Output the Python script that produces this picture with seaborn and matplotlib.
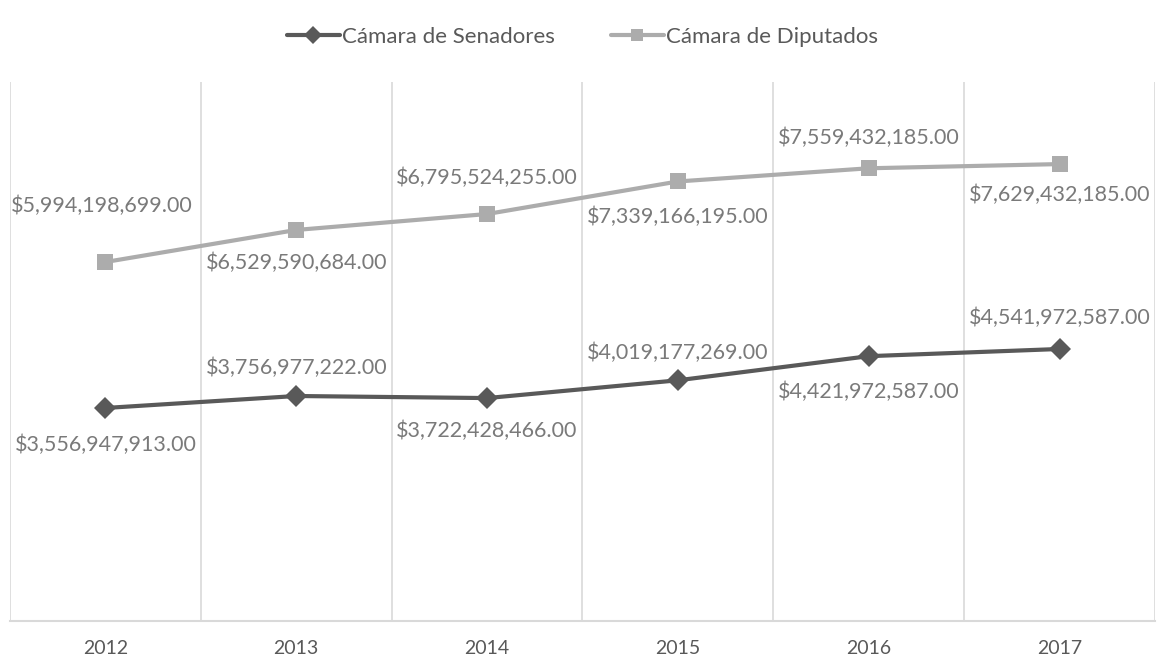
import numpy as np
import pandas as pd
import matplotlib
matplotlib.use('Agg')
import matplotlib.pyplot as plt
import seaborn as sns

# datos
years = ['2012', '2013', '2014', '2015', '2016', '2017']
senadores = [3556947913.00, 3756977222.00, 3722428466.00, 4019177269.00, 4421972587.00, 4541972587.00]
diputados = [5994198699.00, 6529590684.00, 6795524255.00, 7339166195.00, 7559432185.00, 7629432185.00]
series_names = ['Cámara de Senadores', 'Cámara de Diputados']
# desplazamiento vertical de la etiqueta (pixeles, + arriba)
off_sen = [-37, 28, -33, 27, -36, 31]
off_dip = [56, -33, 36, -35, 30, -31]
off_dip_x = [-4, 0, 0, 0, 0, 0]

df = pd.DataFrame({
    'x': list(range(len(years))) * 2,
    'valor': senadores + diputados,
    'serie': [series_names[0]] * len(years) + [series_names[1]] * len(years),
})

sns.set_theme(style='white')
plt.rcParams['font.family'] = ['Lato', 'DejaVu Sans']

colores = {series_names[0]: '#595959', series_names[1]: '#acacac'}
marcadores = {series_names[0]: 'D', series_names[1]: 's'}

fig = plt.figure(figsize=(11.62, 6.62), dpi=100)
ax = fig.add_axes([10 / 1162, 41 / 662, 1145 / 1162, 539 / 662])

sns.lineplot(data=df, x='x', y='valor', hue='serie', style='serie',
             palette=colores, markers=marcadores, dashes=False,
             linewidth=3, markersize=11, markeredgewidth=0, ax=ax)

ax.set_xlim(-0.5, len(years) - 0.5)
ax.set_ylim(0, 9e9)
ax.set_xticks(range(len(years)))
ax.set_xticklabels(years, fontsize=14, color='#595959')
ax.set_xticks(np.arange(-0.5, len(years), 1), minor=True)
ax.grid(True, which='minor', axis='x', color='#d9d9d9', linewidth=1.2)
ax.tick_params(axis='x', which='both', length=0, pad=14)
ax.set_yticks([])
ax.set_xlabel('')
ax.set_ylabel('')
for s in ['top', 'right', 'left']:
    ax.spines[s].set_visible(False)
ax.spines['bottom'].set_color('#d9d9d9')
ax.spines['bottom'].set_linewidth(1.5)

# etiquetas de datos
for vals, offs, offx in [(senadores, off_sen, [0] * 6), (diputados, off_dip, off_dip_x)]:
    for i, v in enumerate(vals):
        ax.annotate('${:,.2f}'.format(v), (i, v), xytext=(offx[i], offs[i]),
                    textcoords='offset pixels',
                    ha='center', va='center', fontsize=15.5, color='#7a7a7a')

leg = ax.legend(loc='upper center', bbox_to_anchor=(0.5, 1.14), ncol=2,
                frameon=False, fontsize=16, handlelength=2.4, columnspacing=2.5,
                handletextpad=0.1, labelcolor='#595959', markerscale=0.8)
leg.set_title(None)

fig.savefig('out.png', dpi=100)
